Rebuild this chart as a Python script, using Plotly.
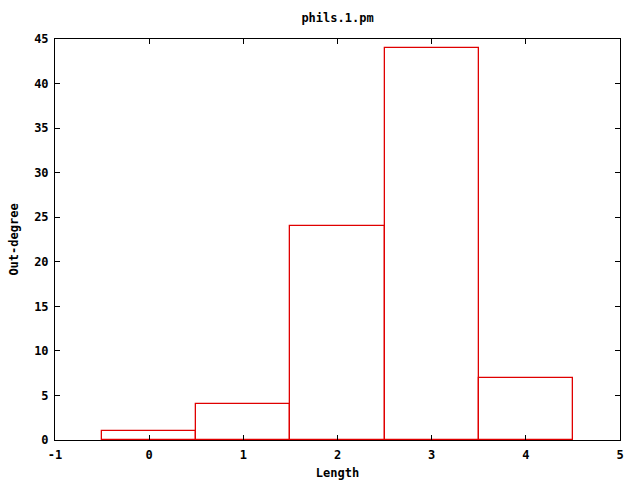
import plotly.graph_objects as go

lengths = [0, 1, 2, 3, 4]
out_degree = [1, 4, 24, 44, 7]
x_ticks = [-1, 0, 1, 2, 3, 4, 5]
y_ticks = [0, 5, 10, 15, 20, 25, 30, 35, 40, 45]

font = dict(family="DejaVu Sans Mono", size=12, color="black", weight="bold")

fig = go.Figure(go.Bar(
    x=lengths, y=out_degree, width=1,
    marker=dict(color="rgba(0,0,0,0)", line=dict(color="#e00000", width=1.3)),
))

fig.update_layout(
    width=640, height=480,
    margin=dict(l=55, r=20, t=39, b=40, autoexpand=False),
    plot_bgcolor="white", paper_bgcolor="white",
    font=font,
    showlegend=False,
    title=dict(text="phils.1.pm", x=0.5, xanchor="center", xref="paper",
               y=1 - 18 / 480, yref="container", yanchor="middle", font=font, automargin=False),
    bargap=0,
)
axis_common = dict(
    showgrid=False, zeroline=False, showline=True, linecolor="black", linewidth=1,
    mirror="ticks", ticks="inside", ticklen=5, tickcolor="black", tickfont=font,
    automargin=False, layer="above traces",
)
fig.update_xaxes(range=[-1, 5], tickvals=x_ticks, ticktext=[str(v) for v in x_ticks],
                 ticklabelstandoff=4,
                 title=dict(text="Length", font=font, standoff=8), **axis_common)
fig.update_yaxes(range=[0, 45], tickvals=y_ticks, ticktext=[str(v) for v in y_ticks],
                 ticklabelstandoff=3,
                 title=dict(text="Out-degree", font=font, standoff=12), **axis_common)

fig.write_html("out.html", config={"displayModeBar": False},
               post_script="document.body.style.margin='0';document.body.style.padding='0';")
